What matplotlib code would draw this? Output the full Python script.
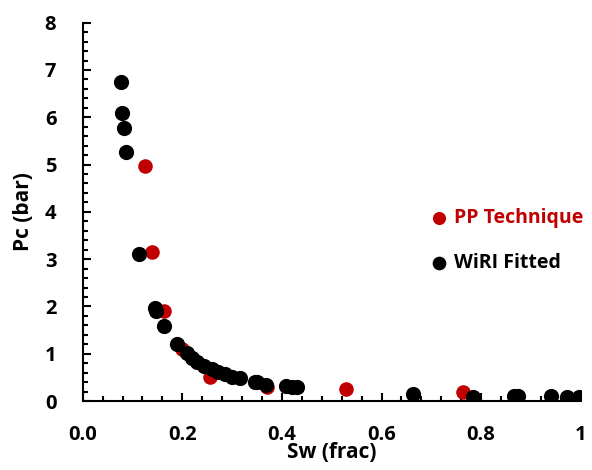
import matplotlib
matplotlib.use('Agg')
import matplotlib.pyplot as plt
from matplotlib.ticker import MultipleLocator

# PP Technique (measured)
pp_sw = [0.125, 0.140, 0.164, 0.199, 0.256, 0.370, 0.529, 0.763, 0.997]
pp_pc = [4.97, 3.15, 1.90, 1.09, 0.51, 0.30, 0.25, 0.20, 0.04]

# WiRI Fitted
wiri_sw = [0.076, 0.078, 0.082, 0.086, 0.113, 0.145, 0.148, 0.163, 0.189,
           0.209, 0.219, 0.229, 0.243, 0.259, 0.272, 0.286, 0.299, 0.315,
           0.346, 0.350, 0.369, 0.409, 0.420, 0.430, 0.663, 0.784, 0.866,
           0.874, 0.941, 0.972, 0.996]
wiri_pc = [6.75, 6.10, 5.77, 5.26, 3.10, 1.96, 1.90, 1.59, 1.21,
           1.01, 0.90, 0.83, 0.74, 0.67, 0.62, 0.57, 0.51, 0.48,
           0.40, 0.41, 0.34, 0.32, 0.29, 0.29, 0.15, 0.09, 0.11,
           0.11, 0.11, 0.08, 0.08]

x_ticks = [0.0, 0.2, 0.4, 0.6, 0.8, 1.0]
x_labels = ['0.0', '0.2', '0.4', '0.6', '0.8', '1']
y_ticks = [0, 1, 2, 3, 4, 5, 6, 7, 8]

red = '#C00000'

plt.rcParams['font.family'] = ['Open Sans', 'DejaVu Sans']
plt.rcParams['font.weight'] = 'bold'

fig = plt.figure(figsize=(5.92, 4.70), dpi=100)
ax = fig.add_axes([0.1397, 0.1468, 0.8413, 0.8049])

ax.scatter(pp_sw, pp_pc, s=110, color=red, label='PP Technique', zorder=2, linewidths=0)
ax.scatter(wiri_sw, wiri_pc, s=120, color='black', label='WiRI Fitted', zorder=3, linewidths=0)

ax.set_xlim(0, 1)
ax.set_ylim(0, 8)
ax.set_xticks(x_ticks)
ax.set_xticklabels(x_labels)
ax.set_yticks(y_ticks)
ax.xaxis.set_minor_locator(MultipleLocator(0.04))
ax.yaxis.set_minor_locator(MultipleLocator(0.2))

ax.tick_params(which='major', direction='in', length=6, width=1.5, labelsize=14.5)
ax.tick_params(which='minor', direction='in', length=3.5, width=1.5)
ax.tick_params(axis='y', pad=19)
ax.tick_params(axis='x', pad=17)
for lbl in ax.get_xticklabels() + ax.get_yticklabels():
    lbl.set_fontweight('bold')

for s in ['top', 'right']:
    ax.spines[s].set_visible(False)
for s in ['left', 'bottom']:
    ax.spines[s].set_linewidth(1.5)

ax.set_xlabel('Sw (frac)', fontsize=15, fontweight='bold', labelpad=-2)
ax.set_ylabel('Pc (bar)', fontsize=15, fontweight='bold', labelpad=8)

leg = ax.legend(loc='upper left', bbox_to_anchor=(0.676, 0.5295), frameon=False,
                markerscale=0.9, handlelength=1.2, handletextpad=0.2,
                labelspacing=1.28, borderaxespad=0, labelcolor=[red, 'black'],
                prop={'weight': 'bold', 'size': 14})

fig.savefig('out.png', dpi=100)
